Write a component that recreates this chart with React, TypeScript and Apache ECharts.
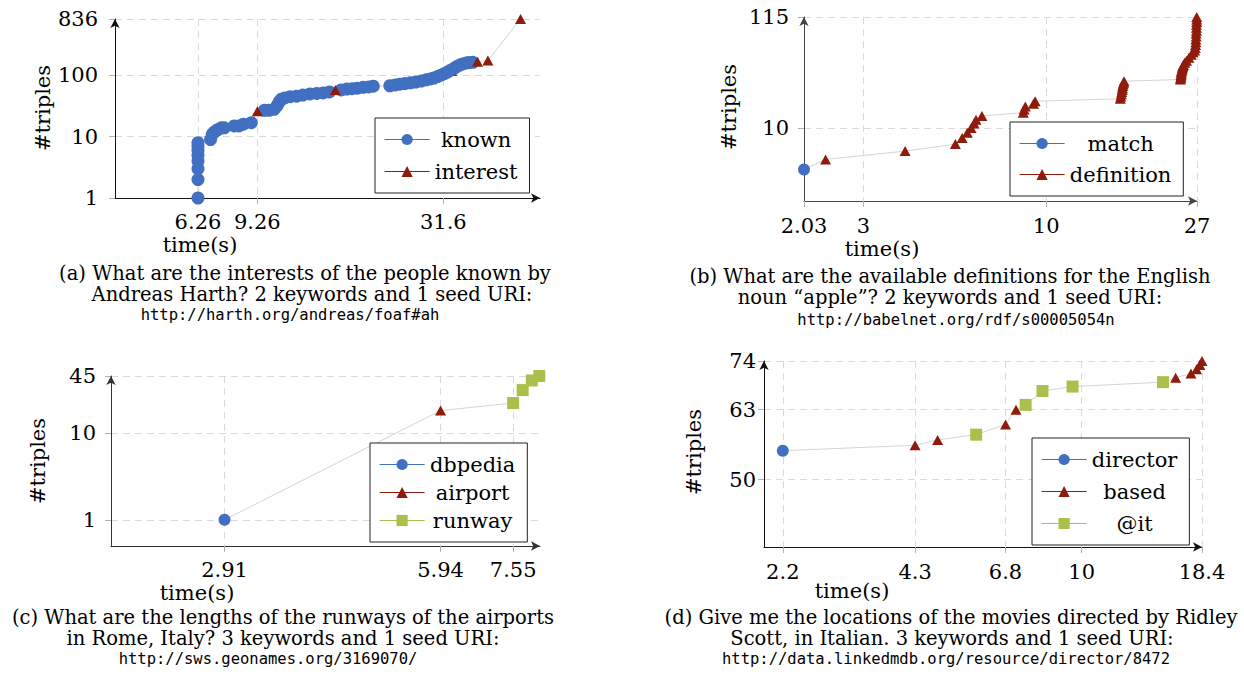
import React, { useEffect, useRef } from "react";
import * as echarts from "echarts";

// ---------- (a) ----------
const knownA: [number, number][] = [
  [6.26, 1], [6.26, 2], [6.26, 3], [6.26, 4], [6.26, 5], [6.26, 6], [6.26, 7], [6.26, 8],
  [6.8, 9], [6.88, 11], [6.98, 12], [7.12, 13], [7.3, 14], [7.45, 14],
  [7.95, 15], [8.2, 15], [8.45, 16], [8.9, 17],
  [9.7, 27], [10.0, 27], [10.35, 28], [10.55, 32], [10.7, 37], [10.85, 41], [11.1, 43], [11.5, 45],
  [12.0, 46], [12.5, 48], [13.1, 50], [13.7, 51], [14.3, 52], [14.9, 54], [16.1, 58], [16.7, 60],
  [17.3, 61], [17.9, 62], [18.6, 64], [19.3, 65], [19.9, 67],
  [22.2, 68], [23.0, 70], [23.7, 72], [24.5, 74], [25.4, 76], [26.3, 78], [27.3, 81], [28.2, 85],
  [29.0, 88], [29.7, 91], [30.4, 96], [31.1, 101], [31.8, 107], [32.5, 114], [33.2, 122], [34.0, 132],
  [34.7, 142], [35.4, 150], [36.1, 156], [36.9, 161], [37.7, 163], [38.4, 164],
];
const interestA: [number, number][] = [
  [9.26, 26], [15.5, 58], [39.6, 168], [42.4, 175], [52.6, 836],
];
const interestAHidden: [number, number][] = [
  [10.4, 37], [33.4, 118],
];
const xTicksA = [6.26, 9.26, 31.6];
const xTickLabelsA = ["6.26", "9.26", "31.6"];
const yTicksA = [1, 10, 100, 836];
const yTickLabelsA = ["1", "10", "100", "836"];

// ---------- (b) ----------
const matchB: [number, number][] = [[2.03, 4]];
const definitionB: [number, number][] = [
  [2.34, 5], [3.95, 6], [5.5, 7], [5.75, 8], [5.95, 9], [6.1, 10], [6.22, 11], [6.3, 12], [6.55, 13],
  [8.6, 14], [8.65, 15], [8.72, 16], [9.2, 17], [9.3, 18],
  [16.3, 19], [16.35, 20], [16.4, 21], [16.45, 22], [16.5, 23], [16.52, 24], [16.55, 25], [16.6, 26],
  [16.65, 27], [16.7, 28],
  [24.2, 29], [24.25, 30], [24.3, 31], [24.3, 32], [24.35, 33], [24.35, 34], [24.4, 35], [24.45, 36],
  [24.5, 37], [24.55, 38], [24.6, 39], [24.7, 40],
  [24.9, 42], [25.2, 44], [25.6, 47], [26.0, 50], [26.3, 53], [26.6, 55],
  [26.7, 58], [26.75, 62], [26.8, 66], [26.8, 70], [26.85, 75], [26.85, 80], [26.9, 85], [26.9, 91],
  [26.9, 97], [26.95, 103], [26.95, 109], [26.95, 115],
];
const xTicksB = [2.03, 3, 10, 27];
const xTickLabelsB = ["2.03", "3", "10", "27"];
const yTicksB = [10, 115];
const yTickLabelsB = ["10", "115"];

// ---------- (c) ----------
const dbpediaC: [number, number][] = [[2.91, 1]];
const airportC: [number, number][] = [[5.94, 18]];
const runwayC: [number, number][] = [[7.55, 22], [7.79, 31], [8.03, 40], [8.23, 45]];
const xTicksC = [2.91, 5.94, 7.55];
const xTickLabelsC = ["2.91", "5.94", "7.55"];
const yTicksC = [1, 10, 45];
const yTickLabelsC = ["1", "10", "45"];

// ---------- (d) ----------
const directorD: [number, number][] = [[2.2, 55]];
const basedD: [number, number][] = [
  [4.3, 56], [4.82, 57], [6.8, 60], [7.17, 63], [16.1, 70], [17.4, 71], [17.9, 72], [18.2, 73], [18.4, 74],
];
const itD: [number, number][] = [[5.86, 58], [7.53, 64], [8.2, 67], [9.55, 68], [15.1, 69]];
const xTicksD = [2.2, 4.3, 6.8, 10, 18.4];
const xTickLabelsD = ["2.2", "4.3", "6.8", "10", "18.4"];
const yTicksD = [50, 63, 74];
const yTickLabelsD = ["50", "63", "74"];

// ---------- captions ----------
const captionA = [
  "(a) What are the interests of the people known by",
  "Andreas Harth? 2 keywords and 1 seed URI:",
];
const urlA = "http://harth.org/andreas/foaf#ah";
const captionB = [
  "(b) What are the available definitions for the English",
  "noun \u201capple\u201d? 2 keywords and 1 seed URI:",
];
const urlB = "http://babelnet.org/rdf/s00005054n";
const captionC = [
  "(c) What are the lengths of the runways of the airports",
  "in Rome, Italy? 3 keywords and 1 seed URI:",
];
const urlC = "http://sws.geonames.org/3169070/";
const captionD = [
  "(d) Give me the locations of the movies directed by Ridley",
  "Scott, in Italian. 3 keywords and 1 seed URI:",
];
const urlD = "http://data.linkedmdb.org/resource/director/8472";

const BLUE = "#4170c2";
const RED = "#8e1b0b";
const GREEN = "#a9c14a";
const GRAYLINE = "#d4d4d4";
const GRID = "#dadada";
const SERIF = "'DejaVu Serif', serif";
const MONO = "'DejaVu Sans Mono', monospace";

function labelFmt(ticks: number[], labels: string[]) {
  return (v: number) => {
    for (let i = 0; i < ticks.length; i++) {
      if (Math.abs(ticks[i] - v) / ticks[i] < 1e-6) return labels[i];
    }
    return "";
  };
}

function makeAxis(idx: number, min: number, max: number, ticks: number[], labels: string[], margin: number, axisColor: string) {
  return {
    type: "log", logBase: 10, gridIndex: idx, min, max,
    axisLine: { show: true, onZero: false, symbol: ["none", "arrow"], symbolSize: [7, 9], lineStyle: { color: axisColor, width: 1 } },
    axisTick: { show: true, customValues: ticks, length: 6, lineStyle: { color: "#b0b0b0" } },
    minorTick: { show: false },
    axisLabel: {
      customValues: ticks, formatter: labelFmt(ticks, labels), fontFamily: SERIF, fontSize: 21, color: "#000",
      margin, showMinLabel: true, showMaxLabel: true, hideOverlap: false,
    },
    splitLine: { show: true, lineStyle: { color: GRID, width: 1, type: [7, 5] } },
    minorSplitLine: { show: false },
  };
}

function sortAll(...lists: [number, number][][]) {
  const all: [number, number][] = [];
  lists.forEach((l) => l.forEach((p) => all.push([p[0], p[1]])));
  all.sort((a, b) => (a[0] - b[0]) || (a[1] - b[1]));
  return all;
}

function grayLine(name: string, idx: number, data: [number, number][]) {
  return {
    type: "line", name, xAxisIndex: idx, yAxisIndex: idx, data, symbol: "none",
    lineStyle: { color: GRAYLINE, width: 1 }, z: 1, silent: true,
  };
}

function marker(name: string, idx: number, data: [number, number][], symbol: string, size: number | number[], color: string, z: number) {
  return {
    type: "line", name, xAxisIndex: idx, yAxisIndex: idx, data, symbol, symbolSize: size,
    showSymbol: true, showAllSymbol: true, itemStyle: { color, opacity: 1 },
    lineStyle: { color, width: 0 }, z, silent: true, emphasis: { disabled: true },
  };
}

function legend(names: string[], left: number, top: number, gap: number, textW: number) {
  return {
    data: names, orient: "vertical", left, top, itemGap: gap, itemWidth: 45, itemHeight: 14,
    padding: [11, 12, 11, 9], backgroundColor: "#fff", borderColor: "#222", borderWidth: 1,
    formatter: (n: string) => "{c|" + n + "}",
    textStyle: {
      fontFamily: SERIF, fontSize: 21, color: "#000",
      rich: { c: { width: textW, align: "center", fontFamily: SERIF, fontSize: 21, color: "#000" } },
    },
    lineStyle: { width: 1.2 }, selectedMode: false, z: 10,
  };
}

function txt(text: string, x: number, y: number, font: string, size: number, rotation = 0) {
  return {
    type: "text", x, y, rotation, silent: true,
    style: { text, fontFamily: font, fontSize: size, fill: "#000", align: "center", verticalAlign: "middle" },
  };
}

export default function App() {
  const ref = useRef<HTMLDivElement>(null);
  useEffect(() => {
    if (!ref.current) return;
    const chart = echarts.init(ref.current, null, { renderer: "svg" });
    const capSize = 19.5;
    const urlSize = 15.5;
    const option: any = {
      animation: false,
      backgroundColor: "#fff",
      grid: [
        { left: 115, top: 19, width: 425, height: 179 },
        { left: 804, top: 17, width: 393, height: 184 },
        { left: 111, top: 376, width: 429, height: 170 },
        { left: 764, top: 361, width: 438, height: 186 },
      ],
      xAxis: [
        makeAxis(0, 3.62, 59.8, xTicksA, xTickLabelsA, 13, "#111"),
        makeAxis(1, 2.03, 27, xTicksB, xTickLabelsB, 14, "#444"),
        makeAxis(2, 2.0, 8.25, xTicksC, xTickLabelsC, 13, "#333"),
        makeAxis(3, 2.0, 18.4, xTicksD, xTickLabelsD, 14, "#111"),
      ],
      yAxis: [
        makeAxis(0, 1, 836, yTicksA, yTickLabelsA, 17, "#111"),
        makeAxis(1, 2, 115, yTicksB, yTickLabelsB, 15, "#444"),
        makeAxis(2, 0.5, 45, yTicksC, yTickLabelsC, 15, "#333"),
        makeAxis(3, 40, 74, yTicksD, yTickLabelsD, 8, "#111"),
      ],
      legend: [
        legend(["known", "interest"], 375, 118, 11, 83),
        legend(["match", "definition"], 1010, 122, 10, 102),
        legend(["dbpedia", "airport", "runway"], 370, 443, 7, 86),
        legend(["director", "based", "@it"], 1032, 438, 11, 86),
      ],
      series: [
        grayLine("lineA", 0, sortAll(knownA, interestA, interestAHidden)),
        marker("interest", 0, interestAHidden, "triangle", [11, 10], RED, 2),
        marker("known", 0, knownA, "circle", 13, BLUE, 3),
        marker("interest", 0, interestA, "triangle", [11, 10], RED, 4),

        grayLine("lineB", 1, sortAll(matchB, definitionB)),
        marker("match", 1, matchB, "circle", 12, BLUE, 3),
        marker("definition", 1, definitionB, "triangle", [11, 10], RED, 3),

        grayLine("lineC", 2, sortAll(dbpediaC, airportC, runwayC)),
        marker("dbpedia", 2, dbpediaC, "circle", 12, BLUE, 3),
        marker("airport", 2, airportC, "triangle", [11, 10], RED, 3),
        marker("runway", 2, runwayC, "rect", 12, GREEN, 3),

        grayLine("lineD", 3, sortAll(directorD, basedD, itD)),
        marker("director", 3, directorD, "circle", 12, BLUE, 3),
        marker("based", 3, basedD, "triangle", [11, 10], RED, 3),
        marker("@it", 3, itD, "rect", 12, GREEN, 4),
      ],
      graphic: [
        txt("#triples", 43, 108, SERIF, 21, Math.PI / 2),
        txt("time(s)", 200, 245, SERIF, 21),
        txt("#triples", 729, 107, SERIF, 21, Math.PI / 2),
        txt("time(s)", 882, 249, SERIF, 21),
        txt("#triples", 38, 461, SERIF, 21, Math.PI / 2),
        txt("time(s)", 197, 593, SERIF, 21),
        txt("#triples", 694, 452, SERIF, 21, Math.PI / 2),
        txt("time(s)", 852, 591, SERIF, 21),

        txt(captionA[0], 305, 273, SERIF, capSize),
        txt(captionA[1], 312, 294, SERIF, capSize),
        txt(urlA, 290, 315, MONO, urlSize),
        txt(captionB[0], 950, 276, SERIF, capSize),
        txt(captionB[1], 950, 297, SERIF, capSize),
        txt(urlB, 956, 320, MONO, urlSize),
        txt(captionC[0], 283, 617, SERIF, capSize),
        txt(captionC[1], 283, 638, SERIF, capSize),
        txt(urlC, 268, 659, MONO, urlSize),
        txt(captionD[0], 951, 617, SERIF, capSize),
        txt(captionD[1], 952, 638, SERIF, capSize),
        txt(urlD, 946, 659, MONO, urlSize),
      ],
    };
    chart.setOption(option);
    return () => chart.dispose();
  }, []);
  return <div ref={ref} style={{ position: "absolute", left: 0, top: 0, width: 1244, height: 682 }} />;
}
